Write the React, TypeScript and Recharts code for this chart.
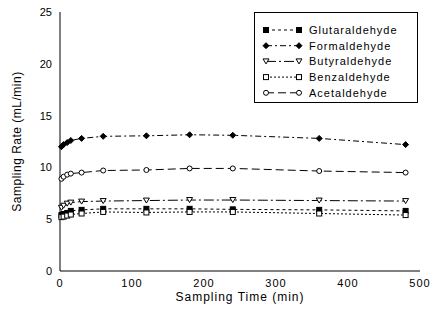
import React from "react";
import { LineChart, Line, XAxis, YAxis } from "recharts";

const times = [2, 5, 10, 15, 30, 60, 120, 180, 240, 360, 480];
const glutaraldehyde = [5.4, 5.5, 5.6, 5.8, 5.9, 6.0, 6.0, 6.0, 5.95, 5.9, 5.8];
const formaldehyde = [12.0, 12.2, 12.4, 12.6, 12.8, 13.0, 13.05, 13.15, 13.1, 12.8, 12.2];
const butyraldehyde = [6.1, 6.3, 6.5, 6.6, 6.7, 6.75, 6.8, 6.85, 6.85, 6.8, 6.75];
const benzaldehyde = [5.2, 5.25, 5.35, 5.45, 5.55, 5.7, 5.65, 5.7, 5.7, 5.55, 5.4];
const acetaldehyde = [8.9, 9.1, 9.3, 9.4, 9.5, 9.7, 9.75, 9.9, 9.9, 9.65, 9.5];
const xTicks = [0, 100, 200, 300, 400, 500];
const yTicks = [0, 5, 10, 15, 20, 25];

const data = times.map((t, i) => ({
  t,
  glutaraldehyde: glutaraldehyde[i],
  formaldehyde: formaldehyde[i],
  butyraldehyde: butyraldehyde[i],
  benzaldehyde: benzaldehyde[i],
  acetaldehyde: acetaldehyde[i],
}));

const font = "Arial, 'Liberation Sans', sans-serif";

type Shape = "fsquare" | "fdiamond" | "tri" | "osquare" | "ocircle";

function marker(shape: Shape, cx: number, cy: number, key?: React.Key) {
  switch (shape) {
    case "fsquare":
      return <rect key={key} x={cx - 2.5} y={cy - 2.5} width={5} height={5} fill="#000" stroke="#000" />;
    case "fdiamond":
      return <polygon key={key} points={`${cx},${cy - 3} ${cx + 3},${cy} ${cx},${cy + 3} ${cx - 3},${cy}`} fill="#000" stroke="#000" />;
    case "tri":
      return <polygon key={key} points={`${cx - 3},${cy - 2.5} ${cx + 3},${cy - 2.5} ${cx},${cy + 2.5}`} fill="#fff" stroke="#000" />;
    case "osquare":
      return <rect key={key} x={cx - 2.5} y={cy - 2.5} width={5} height={5} fill="#fff" stroke="#000" />;
    default:
      return <circle key={key} cx={cx} cy={cy} r={2.5} fill="#fff" stroke="#000" />;
  }
}

const series: { key: string; name: string; shape: Shape; dash: string }[] = [
  { key: "glutaraldehyde", name: "Glutaraldehyde", shape: "fsquare", dash: "3 3" },
  { key: "formaldehyde", name: "Formaldehyde", shape: "fdiamond", dash: "6 3 2 3" },
  { key: "butyraldehyde", name: "Butyraldehyde", shape: "tri", dash: "10 3 2 3" },
  { key: "benzaldehyde", name: "Benzaldehyde", shape: "osquare", dash: "2 2" },
  { key: "acetaldehyde", name: "Acetaldehyde", shape: "ocircle", dash: "8 4" },
];

function LegendBox() {
  return (
    <svg width={165} height={92} style={{ position: "absolute", left: 254, top: 12 }}>
      <rect x={0.5} y={0.5} width={163} height={90} fill="#fff" stroke="#000" />
      {series.map((s, i) => {
        const y = 18 + i * 15.7;
        return (
          <g key={s.key}>
            <line x1={12} x2={45} y1={y} y2={y} stroke="#000" strokeDasharray={s.dash} />
            {marker(s.shape, 12, y)}
            {marker(s.shape, 45, y)}
            <text x={55} y={y + 4} fontSize={11} fontFamily={font} letterSpacing={1} fill="#000">
              {s.name}
            </text>
          </g>
        );
      })}
    </svg>
  );
}

export default function App() {
  return (
    <div style={{ position: "relative", width: 435, height: 324, background: "#fff" }}>
      <style>{"body{margin:0}"}</style>
      <LineChart width={435} height={324} data={data} margin={{ top: 12, right: 15, bottom: 23, left: 0 }}>
        <XAxis
          dataKey="t"
          type="number"
          domain={[0, 500]}
          ticks={xTicks}
          axisLine={{ stroke: "#000" }}
          tickLine={false}
          tick={{ fontSize: 11, fill: "#000", fontFamily: font, letterSpacing: 1 }}
          height={30}
          label={{ value: "Sampling Time (min)", position: "insideBottom", offset: 0, fontSize: 12, fill: "#000", fontFamily: font, letterSpacing: 1 }}
        />
        <XAxis xAxisId="top" orientation="top" dataKey="t" type="number" domain={[0, 500]} height={0} tick={false} tickLine={false} axisLine={{ stroke: "#000" }} />
        <YAxis
          type="number"
          domain={[0, 25]}
          ticks={yTicks}
          width={60}
          axisLine={{ stroke: "#000" }}
          tickLine={false}
          tick={{ fontSize: 11, fill: "#000", fontFamily: font }}
          label={{ value: "Sampling Rate (mL/min)", angle: -90, position: "insideLeft", offset: 17, style: { textAnchor: "middle" }, fontSize: 12, fill: "#000", fontFamily: font, letterSpacing: 0.5 }}
        />
        <YAxis yAxisId="right" orientation="right" domain={[0, 25]} ticks={yTicks} width={0} tick={false} tickSize={3} tickLine={{ stroke: "#000" }} axisLine={{ stroke: "#000" }} />
        {series.map((s) => (
          <Line
            key={s.key}
            dataKey={s.key}
            name={s.name}
            stroke="#000"
            strokeWidth={1}
            strokeDasharray={s.dash}
            isAnimationActive={false}
            dot={(p: any) => marker(s.shape, p.cx, p.cy, p.index)}
            activeDot={false}
          />
        ))}
      </LineChart>
      <LegendBox />
    </div>
  );
}
